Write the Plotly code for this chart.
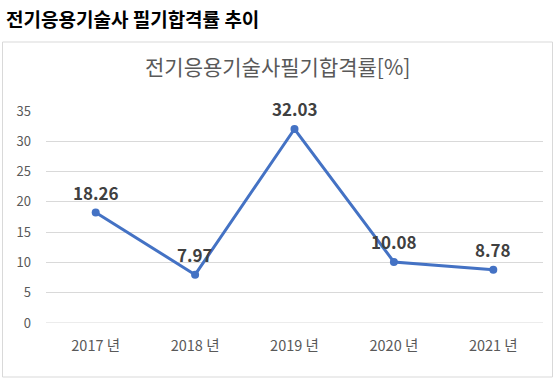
import plotly.graph_objects as go

years = ["2017 년", "2018 년", "2019 년", "2020 년", "2021 년"]
rates = [18.26, 7.97, 32.03, 10.08, 8.78]
y_ticks = [0, 5, 10, 15, 20, 25, 30, 35]
page_title = "전기응용기술사 필기합격률 추이"
chart_title = "전기응용기술사필기합격률[%]"

W, H = 559, 383
# plot area in window pixels: x 46..543, y 111..323
L, R, T, B = 46, 559 - 543, 111, 383 - 323
pw, ph = W - L - R, H - T - B

def px_x(x):  # window px -> paper
    return (x - L) / pw

def px_y(y):
    return (H - B - y) / ph

FONT = "Noto Sans CJK KR"

fig = go.Figure()
fig.add_trace(go.Scatter(
    x=years, y=rates, mode="lines+markers",
    line=dict(color="#4472C4", width=3),
    marker=dict(color="#4472C4", size=8),
    cliponaxis=False,
    hoverinfo="skip",
))

label_annots = [
    dict(x=yr, y=v, xref="x", yref="y", text=f"{v:.2f}", showarrow=False,
         xanchor="center", yanchor="middle", yshift=20,
         font=dict(family=FONT, size=17, color="#404040", weight="bold"))
    for yr, v in zip(years, rates)
]

fig.update_layout(
    width=W, height=H,
    margin=dict(l=L, r=R, t=T, b=B),
    paper_bgcolor="white", plot_bgcolor="white",
    showlegend=False,
    font=dict(family=FONT, color="#595959"),
    xaxis=dict(
        type="category", range=[-0.5, 4.5], showgrid=False, zeroline=False,
        showline=False, ticks="", tickfont=dict(size=14.5, color="#595959"),
        ticklabelstandoff=12,
    ),
    yaxis=dict(
        range=[0, 35], tickvals=y_ticks, showgrid=True, gridcolor="#d9d9d9",
        gridwidth=1, zeroline=False, showline=False, ticks="",
        tickfont=dict(size=13, color="#595959"), ticklabelstandoff=14,
    ),
    shapes=[dict(
        type="rect", xref="paper", yref="paper",
        x0=px_x(2.5), x1=px_x(552.5), y0=px_y(377), y1=px_y(42),
        line=dict(color="#d9d9d9", width=1), layer="below",
    ), dict(
        type="line", xref="paper", yref="y", x0=0, x1=1, y0=0, y1=0,
        line=dict(color="#d9d9d9", width=1), layer="below",
    )],
    annotations=[
        dict(text=page_title, xref="paper", yref="paper", x=px_x(4), y=px_y(18),
             xanchor="left", yanchor="middle", showarrow=False,
             font=dict(family=FONT, size=19, color="black", weight="bold")),
        dict(text=chart_title, xref="paper", yref="paper", x=px_x(277), y=px_y(66),
             xanchor="center", yanchor="middle", showarrow=False,
             font=dict(family=FONT, size=21, color="#595959")),
    ] + label_annots,
)

fig.write_html("out.html", config={"displayModeBar": False, "staticPlot": True},
               post_script="document.body.style.margin='0';")
